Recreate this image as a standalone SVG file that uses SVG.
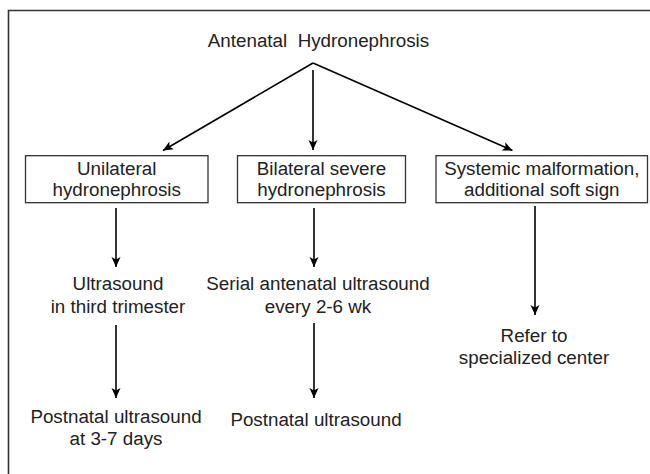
<svg xmlns="http://www.w3.org/2000/svg" width="650" height="474" viewBox="0 0 650 474">
<defs>
<marker id="ah" viewBox="0 0 10 10" refX="10" refY="5" markerWidth="10" markerHeight="10" markerUnits="userSpaceOnUse" orient="auto">
<path d="M0,0.5 L10,5 L0,9.5 L2.5,5 Z" fill="#000"/>
</marker>
<style>
text{font-family:"Liberation Sans",Arial,sans-serif;font-size:18.8px;fill:#222;text-anchor:middle}
.box{fill:#fff;stroke:#333;stroke-width:1.3}
.c{stroke:#000;stroke-width:1.6;fill:none;marker-end:url(#ah)}
</style>
</defs>
<rect width="650" height="474" fill="#fff"/>
<path d="M8.5,480 V10.5 H660" fill="none" stroke="#333" stroke-width="1.6"/>
<g id="connectors">
<path class="c" d="M313,63 L163,150.5"/>
<path class="c" d="M313,70 L313,150"/>
<path class="c" d="M313,63 L512.5,150.5"/>
<path class="c" d="M116,208 L116,267"/>
<path class="c" d="M314,208 L314,267"/>
<path class="c" d="M535,206 L535,315"/>
<path class="c" d="M116,325 L116,398"/>
<path class="c" d="M314,323 L314,398"/>
</g>
<g id="n-antenatal"><text x="318.5" y="46.5" xml:space="preserve">Antenatal  Hydronephrosis</text></g>
<g id="n-unilateral">
<rect class="box" x="25.5" y="155.7" width="182.5" height="47"/>
<text x="116.7" y="175">Unilateral</text>
<text x="116.7" y="196">hydronephrosis</text>
</g>
<g id="n-bilateral">
<rect class="box" x="237.5" y="155.7" width="168" height="47"/>
<text x="321.5" y="175">Bilateral severe</text>
<text x="321.5" y="196">hydronephrosis</text>
</g>
<g id="n-systemic">
<rect class="box" x="436" y="155.7" width="211.5" height="47"/>
<text x="541.8" y="175">Systemic malformation,</text>
<text x="541.8" y="196">additional soft sign</text>
</g>
<g id="n-us3">
<text x="118" y="290">Ultrasound</text>
<text x="118" y="313">in third trimester</text>
</g>
<g id="n-serial">
<text x="318" y="290">Serial antenatal ultrasound</text>
<text x="318" y="313">every 2-6 wk</text>
</g>
<g id="n-refer">
<text x="534" y="342">Refer to</text>
<text x="534" y="364">specialized center</text>
</g>
<g id="n-post1">
<text x="116" y="423">Postnatal ultrasound</text>
<text x="116" y="445">at 3-7 days</text>
</g>
<g id="n-post2">
<text x="316" y="426">Postnatal ultrasound</text>
</g>
</svg>
